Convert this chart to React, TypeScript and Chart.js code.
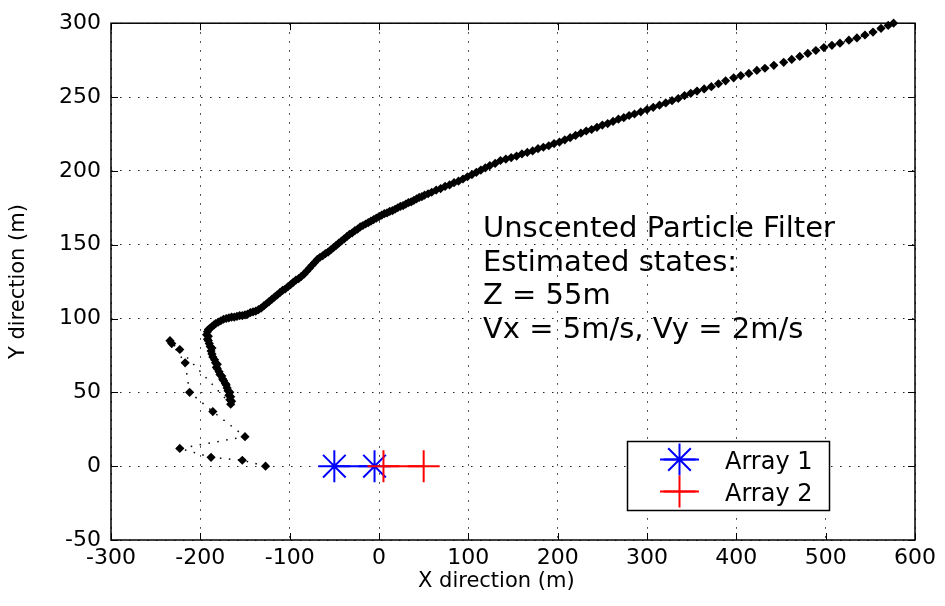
import React, { useEffect, useRef } from 'react';
import { Chart, registerables } from 'chart.js';

Chart.register(...registerables);

// Estimated track (initialisation points first, then converged track)
const TRACK_X = [
  -127, -153, -188, -223, -150, -186, -212, -217, -234, -232, -223,
  -166, -165, -167, -166, -168, -167, -169, -170, -171, -172, -174, -175, -176, -178, -179, -181, -182, -181, -183, -184,
  -186, -187, -188, -187, -189, -190, -191, -192, -191, -193, -192,
  -191, -189, -187, -185, -183, -180, -177, -174, -171, -168, -165, -162, -159, -156, -153, -150, -147, -144, -141, -138,
  -135, -132, -129, -126, -123, -120, -117, -114, -111, -108, -105, -102, -99, -96, -93, -90, -87, -84, -81, -78,
  -75, -72, -69, -66, -63, -60, -57, -54, -51, -48, -45, -42, -39, -36, -33, -30, -27, -24, -21, -18, -15, -12, -9, -6, -3, 0,
  3, 6, 9, 12, 15, 18, 21, 24, 27, 30, 33, 36, 39, 42, 45, 48, 51, 55, 59, 64, 69, 74, 79, 84, 89, 94, 99, 104, 109, 114,
  119, 124, 130, 136,
  142, 148, 154, 160, 166, 172, 178, 184, 190, 196, 202, 208, 214, 220, 226, 232, 238, 244, 250, 256, 262, 268, 274, 280,
  286, 293, 300,
  307, 314, 321, 328, 335, 342, 349, 356, 364, 372, 380, 388, 397, 405, 414, 423, 432, 442, 453, 462, 471, 480, 489, 498,
  507, 516, 526, 535, 544, 553, 562, 570, 576,
];
const TRACK_Y = [
  0, 4, 6, 12, 20, 37, 50, 70, 85, 83, 79,
  42, 44, 45, 47, 48, 50, 51, 53, 55, 56, 58, 59, 61, 62, 64, 66, 67, 69, 70, 72,
  74, 76, 78, 80, 81, 83, 85, 86, 88, 89, 91,
  92.5, 93.5, 94.5, 95.5, 96.5, 97.5, 98.5, 99.5, 100, 100.5, 101, 101, 101.5, 102, 102, 102.5, 103, 104, 104.5, 105,
  106, 107, 108.5, 110, 111.5, 113, 114.5, 116, 117.5, 119, 120, 121.5, 123, 124.5, 126, 127, 128.5, 130, 132, 134,
  136, 138, 140, 141.5, 142.5, 144, 145, 146.5, 148, 149.5, 151, 152.5, 154, 155.5, 157, 158, 159.5, 160.5, 162, 163, 164, 165, 166, 167, 168, 169,
  170, 171, 171.5, 172.5, 173, 174, 175, 176, 176.5, 177.5, 178.5, 179, 180, 181, 182, 182.5, 183.5, 184.5, 185.5, 187, 188, 189.5, 190.5, 192, 193, 194.5, 196, 197.5, 199, 200.5,
  202, 203.5, 205, 207,
  208, 209, 210, 211.5, 212.5, 213.5, 215, 216, 217, 218.5, 219.5, 221, 222.5, 224, 225.5, 227, 228, 229.5, 231, 232, 233.5, 235, 236, 237.5,
  238.5, 240, 241.5,
  243, 244.5, 246, 247.5, 249, 251, 252.5, 254, 255.5, 257, 259, 261, 263, 264.5, 266, 268, 269.5, 271.5, 273.5, 275.5, 277.5, 279.5, 281.5, 283.5,
  285, 286.5, 288.5, 290, 292, 294, 296.5, 298.5, 300,
];

const ARRAY1_X = [-50, -5];
const ARRAY1_Y = [0, 0];
const ARRAY2_X = [5, 50];
const ARRAY2_Y = [0, 0];

const X_MIN = -300;
const X_MAX = 600;
const X_STEP = 100;
const Y_MIN = -50;
const Y_MAX = 300;
const Y_STEP = 50;

const X_TITLE = 'X direction (m)';
const Y_TITLE = 'Y direction (m)';
const ANNOTATION_LINES = [
  'Unscented Particle Filter',
  'Estimated states:',
  'Z = 55m',
  'Vx = 5m/s, Vy = 2m/s',
];

const FONT = '"DejaVu Sans", "Liberation Sans", Arial, sans-serif';

const toPoints = (xs: number[], ys: number[]) => xs.map((x, i) => ({ x, y: ys[i] }));

function drawStar(ctx: CanvasRenderingContext2D, x: number, y: number, r: number) {
  const d = r * Math.SQRT1_2;
  ctx.beginPath();
  ctx.moveTo(x - r, y); ctx.lineTo(x + r, y);
  ctx.moveTo(x, y - r); ctx.lineTo(x, y + r);
  ctx.moveTo(x - d, y - d); ctx.lineTo(x + d, y + d);
  ctx.moveTo(x - d, y + d); ctx.lineTo(x + d, y - d);
  ctx.stroke();
}
function drawCross(ctx: CanvasRenderingContext2D, x: number, y: number, r: number) {
  ctx.beginPath();
  ctx.moveTo(x - r, y); ctx.lineTo(x + r, y);
  ctx.moveTo(x, y - r); ctx.lineTo(x, y + r);
  ctx.stroke();
}

const framePlugin = {
  id: 'matlabFrame',
  afterDraw(chart: any) {
    const { ctx, chartArea: a, scales } = chart;
    ctx.save();
    ctx.setLineDash([]);
    // axes box
    ctx.strokeStyle = '#000';
    ctx.lineWidth = 1.5;
    ctx.strokeRect(a.left, a.top, a.right - a.left, a.bottom - a.top);
    // inward ticks
    ctx.lineWidth = 1;
    const tl = 7;
    ctx.beginPath();
    scales.x.ticks.forEach((t: any) => {
      const px = Math.round(scales.x.getPixelForValue(t.value)) + 0.5;
      ctx.moveTo(px, a.bottom); ctx.lineTo(px, a.bottom - tl);
      ctx.moveTo(px, a.top); ctx.lineTo(px, a.top + tl);
    });
    scales.y.ticks.forEach((t: any) => {
      const py = Math.round(scales.y.getPixelForValue(t.value)) + 0.5;
      ctx.moveTo(a.left, py); ctx.lineTo(a.left + tl, py);
      ctx.moveTo(a.right, py); ctx.lineTo(a.right - tl, py);
    });
    ctx.stroke();

    // annotation text
    ctx.fillStyle = '#000';
    ctx.font = `29px ${FONT}`;
    ctx.textAlign = 'left';
    ctx.textBaseline = 'alphabetic';
    ANNOTATION_LINES.forEach((s, i) => ctx.fillText(s, 483, 237 + i * 33.5));

    // legend
    const lx = 627.5, ly = 441.5, lw = 202, lh = 69;
    ctx.fillStyle = '#fff';
    ctx.fillRect(lx, ly, lw, lh);
    ctx.strokeStyle = '#000';
    ctx.lineWidth = 1.5;
    ctx.strokeRect(lx, ly, lw, lh);
    const items = chart.data.datasets.filter((d: any) => d.label && d.label.startsWith('Array'));
    items.forEach((d: any, i: number) => {
      const cy = 459.5 + i * 32;
      const cx = 679.5;
      ctx.strokeStyle = d.borderColor;
      ctx.lineWidth = 2;
      ctx.beginPath();
      ctx.moveTo(660, cy); ctx.lineTo(699, cy);
      ctx.stroke();
      if (d.pointStyle === 'star') drawStar(ctx, cx, cy, 16);
      else drawCross(ctx, cx, cy, 16);
      ctx.fillStyle = '#000';
      ctx.font = `24px ${FONT}`;
      ctx.fillText(d.label, 725, cy + 9);
    });
    ctx.restore();
  },
};

export default function App() {
  const ref = useRef<HTMLCanvasElement | null>(null);

  useEffect(() => {
    if (!ref.current) return;
    const chart = new Chart(ref.current, {
      type: 'scatter',
      data: {
        datasets: [
          {
            label: 'Track',
            data: toPoints(TRACK_X, TRACK_Y),
            showLine: true,
            borderColor: '#000',
            borderWidth: 1.5,
            borderDash: [1.5, 7.5],
            pointStyle: 'rectRot',
            pointRadius: 4.6,
            pointBackgroundColor: '#000',
            pointBorderWidth: 0,
            tension: 0,
            clip: false,
            order: 2,
          } as any,
          {
            label: 'Array 1',
            data: toPoints(ARRAY1_X, ARRAY1_Y),
            showLine: true,
            borderColor: '#0000ff',
            borderWidth: 2,
            pointStyle: 'star',
            pointRadius: 16,
            pointBorderWidth: 2,
            pointBorderColor: '#0000ff',
            order: 1,
          } as any,
          {
            label: 'Array 2',
            data: toPoints(ARRAY2_X, ARRAY2_Y),
            showLine: true,
            borderColor: '#ff0000',
            borderWidth: 2,
            pointStyle: 'cross',
            pointRadius: 16,
            pointBorderWidth: 2,
            pointBorderColor: '#ff0000',
            order: 0,
          } as any,
        ],
      },
      options: {
        animation: false,
        responsive: true,
        maintainAspectRatio: false,
        layout: { padding: { left: 0, top: 18, right: 30, bottom: 0 } },
        plugins: {
          legend: { display: false },
          tooltip: { enabled: false },
        },
        scales: {
          x: {
            type: 'linear',
            min: X_MIN,
            max: X_MAX,
            afterFit: (s: any) => { s.height = 66; },
            ticks: {
              stepSize: X_STEP,
              color: '#000',
              padding: 5,
              maxRotation: 0,
              font: { family: FONT, size: 22 },
            },
            grid: { color: '#222', lineWidth: 1, drawTicks: false },
            border: { display: false, dash: [1.5, 7.5] },
            title: {
              display: true,
              text: X_TITLE + '     ',
              color: '#000',
              font: { family: FONT, size: 21 },
              padding: { top: 0, bottom: 12 },
            },
          },
          y: {
            type: 'linear',
            min: Y_MIN,
            max: Y_MAX,
            afterFit: (s: any) => { s.width = 111; },
            ticks: {
              stepSize: Y_STEP,
              color: '#000',
              padding: 10,
              font: { family: FONT, size: 22 },
            },
            grid: { color: '#222', lineWidth: 1, drawTicks: false },
            border: { display: false, dash: [1.5, 7.5] },
            title: {
              display: true,
              text: Y_TITLE,
              color: '#000',
              font: { family: FONT, size: 21 },
              padding: { top: 6, bottom: 0 },
            },
          },
        },
      },
      plugins: [framePlugin],
    } as any);
    return () => chart.destroy();
  }, []);

  return (
    <div style={{ position: 'absolute', left: 0, top: 0, width: 945, height: 606, background: '#fff' }}>
      <canvas ref={ref} />
    </div>
  );
}
